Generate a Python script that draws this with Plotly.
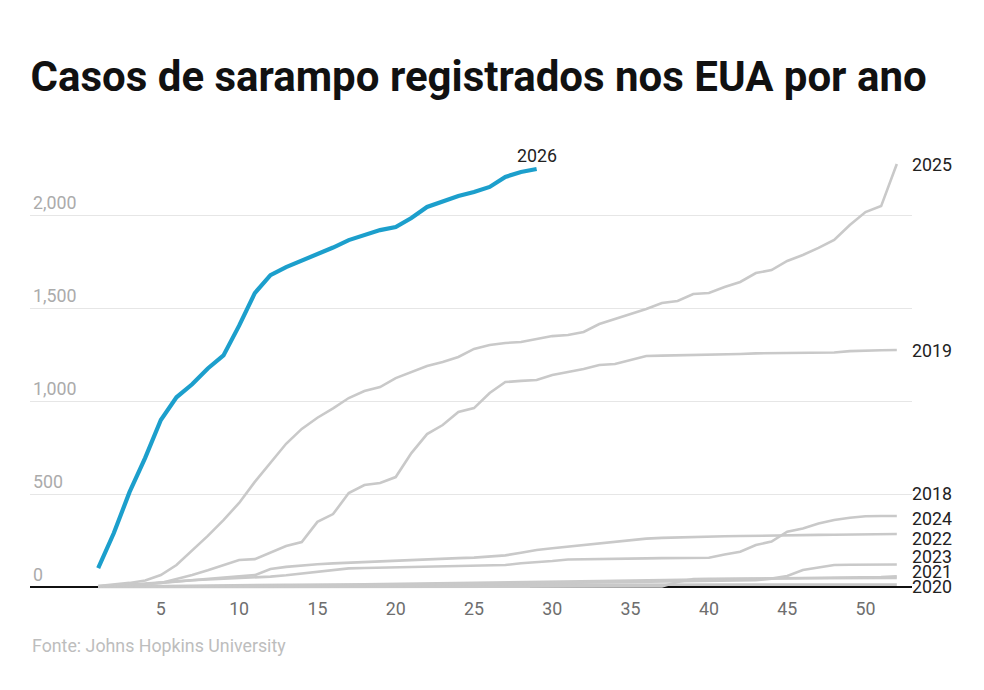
import plotly.graph_objects as go

# ---------------- data ----------------
weeks = list(range(1, 53))

cases_2026 = [102, 290, 510, 694, 898, 1020, 1090, 1175, 1245, 1405, 1580, 1677, 1720, 1753,
              1790, 1825, 1865, 1892, 1919, 1935, 1984, 2043, 2075, 2102, 2124, 2151, 2205,
              2231, 2247]

cases_2025 = [5, 12, 22, 35, 64, 118, 195, 275, 360, 452, 565, 665, 770, 850, 910, 960, 1016,
              1054, 1075, 1123, 1156, 1188, 1210, 1237, 1280, 1301, 1312, 1317, 1333, 1349,
              1355, 1371, 1414, 1441, 1468, 1495, 1527, 1538, 1575, 1581, 1613, 1640, 1688,
              1704, 1753, 1785, 1823, 1866, 1946, 2016, 2048, 2274]

cases_2019 = [5, 8, 12, 16, 22, 43, 65, 90, 118, 145, 150, 183, 220, 242, 350, 392, 505, 548,
              559, 591, 720, 822, 871, 941, 962, 1043, 1102, 1108, 1113, 1140, 1156, 1172,
              1194, 1199, 1220, 1242, 1244, 1245, 1247, 1249, 1251, 1253, 1256, 1257, 1258,
              1259, 1260, 1261, 1268, 1272, 1273, 1274]

cases_2018 = [2, 6, 12, 18, 25, 32, 36, 40, 44, 48, 50, 56, 63, 72, 81, 92, 100, 102, 104, 106,
              107, 108, 109, 110, 112, 115, 118, 128, 132, 140, 148, 150, 151, 152, 153, 154,
              155, 156, 156, 157, 175, 190, 226, 244, 297, 315, 342, 360, 372, 380, 382, 382]

cases_2024 = [2, 5, 10, 15, 22, 30, 38, 45, 52, 58, 64, 97, 108, 116, 122, 127, 131, 135, 138,
              141, 145, 149, 152, 155, 158, 162, 170, 184, 199, 208, 217, 225, 233, 240, 250,
              260, 264, 267, 269, 271, 273, 274, 276, 277, 278, 279, 280, 281, 282, 283, 284,
              285]

cases_2022 = [1, 1, 1, 2, 2, 2, 3, 3, 3, 3, 4, 4, 5, 5, 6, 6, 7, 8, 9, 10, 11, 12, 13, 14, 15,
              16, 17, 18, 19, 20, 21, 22, 23, 24, 25, 26, 27, 28, 29, 30, 32, 34, 36, 45, 59,
              91, 105, 118, 120, 121, 121, 121]

cases_2023 = [1, 1, 2, 2, 3, 3, 4, 4, 5, 5, 6, 7, 8, 9, 10, 11, 12, 14, 15, 16, 17, 18, 19, 21,
              22, 23, 24, 26, 27, 28, 30, 31, 32, 34, 35, 36, 37, 38, 40, 41, 42, 43, 44, 44,
              45, 46, 48, 50, 51, 53, 54, 58]

cases_2021 = [0, 0, 1, 1, 1, 1, 1, 1, 1, 1, 1, 1, 2, 2, 2, 2, 2, 2, 2, 2, 2, 2, 2, 2, 2, 2, 2,
              2, 2, 2, 3, 3, 3, 3, 3, 3, 3, 27, 43, 44, 45, 45, 46, 46, 47, 47, 47, 48, 48, 48,
              49, 49]

cases_2020 = [1, 2, 3, 4, 5, 6, 8, 10, 11, 12, 12, 12, 12, 12, 12, 12, 12, 12, 12, 12, 12, 12,
              12, 12, 12, 12, 12, 12, 12, 12, 12, 12, 12, 12, 12, 12, 12, 13, 13, 13, 13, 13,
              13, 13, 13, 13, 13, 13, 13, 13, 13, 13]

gray_years = ["2020", "2021", "2023", "2022", "2024", "2018", "2019", "2025"]
gray_series = [cases_2020, cases_2021, cases_2023, cases_2022, cases_2024, cases_2018,
               cases_2019, cases_2025]

y_tickvals = [0, 500, 1000, 1500, 2000]
y_ticktext = ["0", "500", "1,000", "1,500", "2,000"]
x_tickvals = [5, 10, 15, 20, 25, 30, 35, 40, 45, 50]

title_text = "Casos de sarampo registrados nos EUA por ano"
source_text = "Fonte: Johns Hopkins University"

# ---------------- styling ----------------
GRAY = "#c9c9c9"
BLUE = "#1c9fcc"
FONT = "Roboto"
TXT = 17.8
# label vertical nudges (px) so end labels don't collide
label_shift = {"2025": 0, "2019": 0, "2018": 22, "2024": 15, "2022": 26,
               "2023": 20, "2021": 6, "2020": -2}

fig = go.Figure()

for yr, vals in zip(gray_years, gray_series):
    fig.add_trace(go.Scatter(
        x=weeks[:len(vals)], y=vals, mode="lines", name=yr,
        line=dict(color=GRAY, width=2.6, shape="linear"),
        hoverinfo="skip", showlegend=False))

fig.add_trace(go.Scatter(
    x=weeks[:len(cases_2026)], y=cases_2026, mode="lines", name="2026",
    line=dict(color=BLUE, width=4.2), hoverinfo="skip", showlegend=False))

annotations = []
for yr, vals in zip(gray_years, gray_series):
    annotations.append(dict(
        x=weeks[len(vals) - 1], y=vals[-1], xref="x", yref="y", text=yr,
        showarrow=False, xanchor="left", yanchor="middle", xshift=13,
        yshift=label_shift[yr], font=dict(family=FONT, size=TXT, color="#222222")))

annotations.append(dict(
    x=weeks[len(cases_2026) - 1], y=cases_2026[-1], xref="x", yref="y", text="2026",
    showarrow=False, xanchor="center", yanchor="middle", yshift=14,
    font=dict(family=FONT, size=TXT, color="#222222")))

annotations.append(dict(
    x=0, y=-(645 - 591) / 441, xref="paper", yref="paper", text=source_text,
    showarrow=False, xanchor="left", yanchor="middle",
    font=dict(family=FONT, size=TXT, color="#bdbdbd")))

fig.update_layout(
    width=984, height=690,
    margin=dict(l=30, r=72, t=150, b=99),
    paper_bgcolor="white", plot_bgcolor="white",
    font=dict(family=FONT),
    title=dict(text="<b>" + title_text + "</b>", x=0.031, xref="container", xanchor="left",
               y=1 - 76 / 690, yref="container", yanchor="middle",
               font=dict(family=FONT, size=42, color="#111111")),
    xaxis=dict(range=[-3.355, 52.97], tickmode="array", tickvals=x_tickvals,
               showgrid=False, zeroline=False, showline=False, ticks="",
               tickfont=dict(family=FONT, size=TXT, color="#6e6e6e"), ticklabelstandoff=5),
    yaxis=dict(range=[-21.5, 2349.5], tickmode="array", tickvals=y_tickvals,
               ticktext=y_ticktext, showgrid=True, gridcolor="#e6e6e6", gridwidth=1,
               zeroline=True, zerolinecolor="#111111", zerolinewidth=2, showline=False,
               ticks="", ticklabelposition="inside top",
               tickfont=dict(family=FONT, size=TXT, color="#ababab")),
    annotations=annotations,
    showlegend=False,
)

fig.write_html("out.html")
